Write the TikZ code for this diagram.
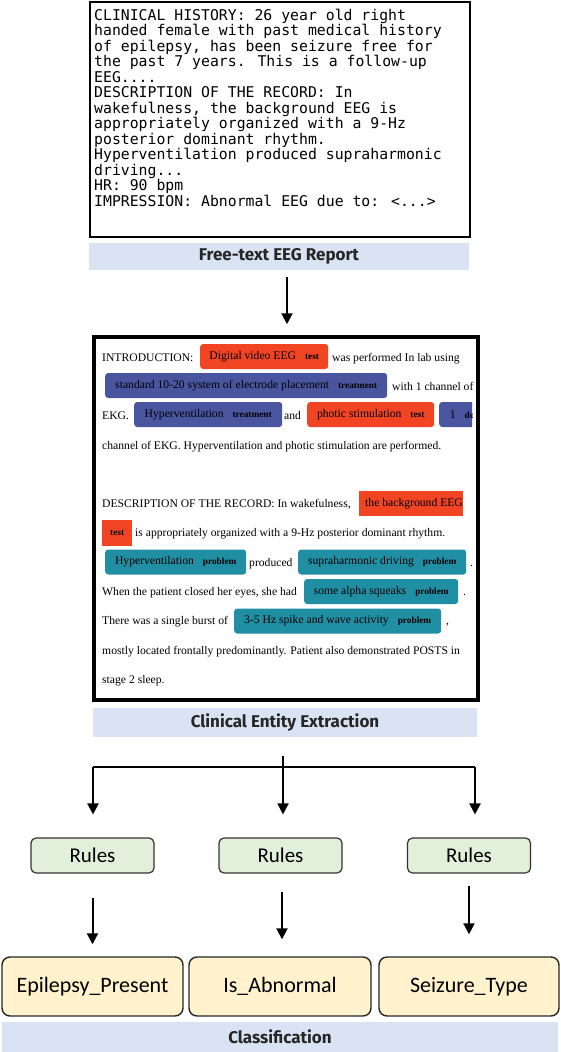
\documentclass[tikz,border=0pt]{standalone}
\usepackage{fontspec}
\setmainfont{Liberation Serif}
\newfontfamily\monof{DejaVu Sans Mono}
\newfontfamily\labf{Fira Sans}
\newfontfamily\calf{Carlito}
\usetikzlibrary{arrows.meta}
\definecolor{labbg}{HTML}{DAE3F3}
\definecolor{rulesbg}{HTML}{E2EFDA}
\definecolor{outbg}{HTML}{FFF2CC}
\definecolor{entred}{HTML}{F04423}
\definecolor{entblue}{HTML}{4A55A0}
\definecolor{entteal}{HTML}{218FA3}
\newcommand\tg[1]{\hspace{9pt}{\fontsize{9.3}{11}\selectfont\bfseries #1}}
\tikzset{
  mono/.style={anchor=base west, inner sep=0, font=\monof\fontsize{14.8}{15.5}\selectfont},
  txt/.style={anchor=base west, inner sep=0, font=\fontsize{11.65}{13}\selectfont},
  ent/.style={anchor=west, rounded corners=3pt, minimum height=25pt, inner sep=0,
    font=\fontsize{11.65}{13}\selectfont, fill=#1},
  labbar/.style={fill=labbg, inner sep=0, text=black!85, font=\labf\bfseries\fontsize{17}{19}\selectfont},
  rulesbox/.style={draw=black!80, line width=1.2pt, fill=rulesbg, rounded corners=5pt,
    minimum width=123pt, minimum height=35pt, inner sep=0, font=\calf\fontsize{21}{24}\selectfont},
  outbox/.style={draw=black!85, line width=1.4pt, fill=outbg, rounded corners=8pt,
    minimum height=59pt, inner sep=0, font=\calf\fontsize{22}{24}\selectfont},
  arr/.style={-{Triangle[width=11pt,length=11pt]}, line width=2pt},
}
\begin{document}
\begin{tikzpicture}[x=1pt,y=-1pt]
\useasboundingbox (0,0) rectangle (560,1052);
\fill[white] (0,0) rectangle (560,1052);

% ---------- free-text report ----------
\node[draw, line width=2pt, minimum width=380pt, minimum height=235pt, inner sep=0] (report) at (280,119.5) {};
\node[mono] (h1) at (94,20) {CLINICAL HISTORY: 26 year old right};
\node[mono] (h2) at (94,35.5) {handed female with past medical history};
\node[mono] (h3) at (94,51) {of epilepsy, has been seizure free for};
\node[mono] (h4) at (94,66.5) {the past 7 years. This is a follow-up};
\node[mono] (h5) at (94,82) {EEG....};
\node[mono] (h6) at (94,97.5) {DESCRIPTION OF THE RECORD: In};
\node[mono] (h7) at (94,113) {wakefulness, the background EEG is};
\node[mono] (h8) at (94,128.5) {appropriately organized with a 9-Hz};
\node[mono] (h9) at (94,144) {posterior dominant rhythm.};
\node[mono] (h10) at (94,159.5) {Hyperventilation produced supraharmonic};
\node[mono] (h11) at (94,175) {driving...};
\node[mono] (h12) at (94,190.5) {HR: 90 bpm};
\node[mono] (h13) at (94,206) {IMPRESSION: Abnormal EEG due to: <...>};

\node[labbar, minimum width=380pt, minimum height=27pt] (lab1) at (279,256.5) {Free-text EEG Report};

% ---------- entity extraction ----------
\node[draw, line width=3.5pt, minimum width=384pt, minimum height=363pt, inner sep=0] (extract) at (286,518.5) {};

% line 1
\node[txt] (t1a) at (102,361) {INTRODUCTION:};
\node[ent=entred, minimum width=128pt] (e1) at (200,356.5) {Digital video EEG\tg{test}};
\node[txt] (t1b) at (332,361) {was performed In lab using};
% line 2
\node[ent=entblue, minimum width=282pt] (e2) at (105,385.5) {standard 10-20 system of electrode placement\tg{treatment}};
\node[txt] (t2a) at (392,390) {with 1 channel of};
% line 3
\node[txt] (t3a) at (102,419) {EKG.};
\node[ent=entblue, minimum width=148pt] (e3) at (134,414.5) {Hyperventilation\tg{treatment}};
\node[txt] (t3b) at (284,419) {and};
\node[ent=entred, minimum width=127pt] (e4) at (307,414.5) {photic stimulation\tg{test}};
\begin{scope}
  \clip (430,395) rectangle (472,435);
  \node[ent=entblue, minimum width=40pt] (e5) at (439,414.5) {\hspace{6pt}1\tg{do}\hspace{20pt}};
\end{scope}
% line 4
\node[txt] (t4a) at (102,449) {channel of EKG. Hyperventilation and photic stimulation are performed.};
% line 5
\node[txt] (t5a) at (102,507) {DESCRIPTION OF THE RECORD: In wakefulness,};
\begin{scope}
  \clip (355,488) rectangle (463,520);
  \node[ent=entred, rounded corners=0pt, minimum width=104pt] (e6) at (359,503.5) {\makebox[104pt][l]{\hspace{6pt}the background EEG}};
\end{scope}
% line 6
\node[ent=entred, rounded corners=0pt, minimum width=30pt, minimum height=26pt] (e7) at (102,533) {\fontsize{9.3}{11}\selectfont\bfseries test};
\node[txt] (t6a) at (135,536) {is appropriately organized with a 9-Hz posterior dominant rhythm.};
% line 7
\node[ent=entteal, minimum width=141pt] (e8) at (105,562) {Hyperventilation\tg{problem}};
\node[txt] (t7a) at (249,566) {produced};
\node[ent=entteal, minimum width=168pt] (e9) at (298,562) {supraharmonic driving\tg{problem}};
\node[txt] (t7b) at (470,566) {.};
% line 8
\node[txt] (t8a) at (102,595) {When the patient closed her eyes, she had};
\node[ent=entteal, minimum width=154pt] (e10) at (304,591.5) {some alpha squeaks\tg{problem}};
\node[txt] (t8b) at (463,595) {.};
% line 9
\node[txt] (t9a) at (102,624) {There was a single burst of};
\node[ent=entteal, minimum width=207pt] (e11) at (234,621) {3-5 Hz spike and wave activity\tg{problem}};
\node[txt] (t9b) at (446,624) {,};
% lines 10-11
\node[txt] (t10a) at (102,654) {mostly located frontally predominantly. Patient also demonstrated POSTS in};
\node[txt] (t11a) at (102,683) {stage 2 sleep.};

\node[labbar, minimum width=384pt, minimum height=29pt] (lab2) at (285,722.5) {Clinical Entity Extraction};

% ---------- rules ----------
\node[rulesbox] (r1) at (92.5,855.5) {Rules};
\node[rulesbox] (r2) at (280.5,855.5) {Rules};
\node[rulesbox] (r3) at (469,855.5) {Rules};

\node[outbox, minimum width=181pt] (o1) at (92.5,986.5) {Epilepsy\_Present};
\node[outbox, minimum width=182pt] (o2) at (280,986.5) {Is\_Abnormal};
\node[outbox, minimum width=180pt] (o3) at (469,986.5) {Seizure\_Type};

\node[labbar, minimum width=556pt, minimum height=30pt] (lab3) at (280,1037) {Classification};

% ---------- connectors ----------
\draw[arr, shorten <=7pt, shorten >=11pt] (lab1.south -| 287,0) -- (extract.north -| 287,0);

\coordinate (bl) at (93,767);
\coordinate (br) at (475,767);
\coordinate (bm) at (283,756);
\draw[line width=2.5pt] (bl) -- (br);
\draw[arr, line width=2.5pt, shorten >=23pt] (bl) -- (bl |- r1.north);
\draw[arr, line width=1.8pt, shorten >=23pt] (bm) -- (bm |- r2.north);
\draw[arr, line width=2.5pt, shorten >=23pt] (br) -- (br |- r3.north);

\draw[arr, shorten <=24pt, shorten >=12pt] (r1.south) -- (r1.south |- o1.north);
\draw[arr, shorten <=18pt, shorten >=17pt] ([xshift=1.5pt]r2.south) -- ([xshift=1.5pt]r2.south |- o2.north);
\draw[arr, shorten <=12pt, shorten >=22pt] (r3.south) -- (r3.south |- o3.north);
\end{tikzpicture}
\end{document}
